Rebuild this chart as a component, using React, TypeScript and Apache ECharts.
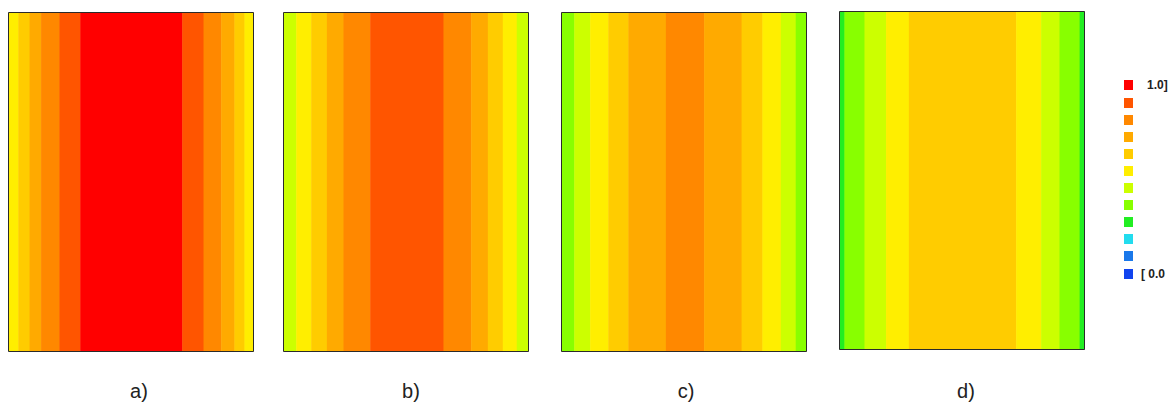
import React, { useEffect, useRef } from "react";
import * as echarts from "echarts";

// Stripe boundaries (percent of panel width) and stripe values for each panel
const panelLabels = ["a)", "b)", "c)", "d)"];

const boundsA = [0, 4.0, 8.6, 13.3, 20.8, 29.3, 70.9, 79.6, 86.8, 92.2, 96.3, 100];
const valuesA = [0.54, 0.62, 0.71, 0.79, 0.88, 0.96, 0.88, 0.79, 0.71, 0.62, 0.54];

const boundsB = [0, 5.2, 11.3, 17.7, 24.5, 35.4, 65.3, 76.6, 83.4, 89.5, 95.2, 100];
const valuesB = [0.46, 0.54, 0.62, 0.71, 0.79, 0.88, 0.79, 0.71, 0.62, 0.54, 0.46];

const boundsC = [0, 5.2, 11.7, 19.1, 27.3, 42.6, 58.2, 73.5, 82.0, 89.5, 95.6, 100];
const valuesC = [0.38, 0.46, 0.54, 0.62, 0.71, 0.79, 0.71, 0.62, 0.54, 0.46, 0.38];

const boundsD = [0, 2.0, 10.2, 19.0, 28.3, 72.1, 82.3, 89.8, 98.0, 100];
const valuesD = [0.29, 0.38, 0.46, 0.54, 0.62, 0.54, 0.46, 0.38, 0.29];

// Colour scale: 12 classes from 0.0 (low) to 1.0 (high)
const scaleColors = [
  "#1144ee",
  "#1a78ea",
  "#22dcee",
  "#22ee22",
  "#88ff00",
  "#ccff00",
  "#ffee00",
  "#ffcc00",
  "#ffaa00",
  "#ff8800",
  "#ff5500",
  "#ff0000",
];
const scaleTopLabel = "1.0]";
const scaleBottomLabel = "[ 0.0";

const panels = [
  { bounds: boundsA, values: valuesA },
  { bounds: boundsB, values: valuesB },
  { bounds: boundsC, values: valuesC },
  { bounds: boundsD, values: valuesD },
];

const gridBoxes = [
  { left: 8.5, top: 12.5, width: 245, height: 339 },
  { left: 283.5, top: 12.5, width: 245, height: 339 },
  { left: 561.5, top: 12.5, width: 245, height: 339 },
  { left: 839.5, top: 11.5, width: 245, height: 338 },
];

export default function App() {
  const ref = useRef<HTMLDivElement>(null);

  useEffect(() => {
    if (!ref.current) return;
    const chart = echarts.init(ref.current, null, { renderer: "svg" });

    const n = scaleColors.length;
    const pieces = scaleColors.map((c, k) => ({
      min: k / n,
      max: (k + 1) / n,
      color: c,
    }));

    const grid = gridBoxes.map((g) => ({
      ...g,
      show: true,
      borderColor: "#2a2a2a",
      borderWidth: 1,
      backgroundColor: "transparent",
      containLabel: false,
      z: 10,
    }));

    const xAxis = gridBoxes.map((_, i) => ({
      type: "value" as const,
      gridIndex: i,
      min: 0,
      max: 100,
      show: false,
    }));
    const yAxis = gridBoxes.map((_, i) => ({
      type: "value" as const,
      gridIndex: i,
      min: 0,
      max: 1,
      show: false,
    }));

    const series = panels.map((p, i) => ({
      type: "custom" as const,
      xAxisIndex: i,
      yAxisIndex: i,
      dimensions: ["x0", "x1", "v"],
      encode: { x: [0, 1] },
      data: p.values.map((v, j) => [p.bounds[j], p.bounds[j + 1], v]),
      renderItem: (params: any, api: any) => {
        const a = api.coord([api.value(0), 1]);
        const b = api.coord([api.value(1), 0]);
        return {
          type: "rect",
          shape: { x: a[0], y: a[1], width: b[0] - a[0] + 0.5, height: b[1] - a[1] },
          style: { fill: api.visual("color") },
        };
      },
      silent: true,
      z: 1,
    }));

    const labelCenters = [139, 411, 686, 966];
    const graphic = panelLabels.map((t, i) => ({
      type: "text",
      x: labelCenters[i],
      y: 391,
      style: {
        text: t,
        align: "center",
        verticalAlign: "middle",
        fontSize: 20,
        fontFamily: "Liberation Sans, Arial, sans-serif",
        fill: "#222",
      },
    }));

    chart.setOption({
      animation: false,
      backgroundColor: "#ffffff",
      grid,
      xAxis,
      yAxis,
      series,
      graphic,
      visualMap: {
        type: "piecewise",
        dimension: 2,
        seriesIndex: [0, 1, 2, 3],
        pieces,
        orient: "vertical",
        align: "left",
        left: 1124,
        top: 79,
        padding: 0,
        itemWidth: 9,
        itemHeight: 10,
        itemGap: 7,
        itemSymbol: "rect",
        textGap: 4,
        hoverLink: false,
        formatter: (v1: number, v2: number) =>
          v2 > 0.99
            ? "{t|" + scaleTopLabel + "}"
            : v1 < 0.01
            ? "{b|" + scaleBottomLabel + "}"
            : "",
        textStyle: {
          fontSize: 12,
          fontWeight: "bold",
          color: "#222",
          fontFamily: "Liberation Sans, Arial, sans-serif",
          rich: {
            t: {
              fontSize: 12,
              fontWeight: "bold",
              color: "#222",
              fontFamily: "Liberation Sans, Arial, sans-serif",
              padding: [0, 0, 0, 10],
            },
            b: {
              fontSize: 12,
              fontWeight: "bold",
              color: "#222",
              fontFamily: "Liberation Sans, Arial, sans-serif",
              padding: [0, 0, 0, 4],
            },
          },
        },
      },
    });

    return () => chart.dispose();
  }, []);

  return (
    <div
      ref={ref}
      style={{ position: "fixed", left: 0, top: 0, width: 1170, height: 406 }}
    />
  );
}
